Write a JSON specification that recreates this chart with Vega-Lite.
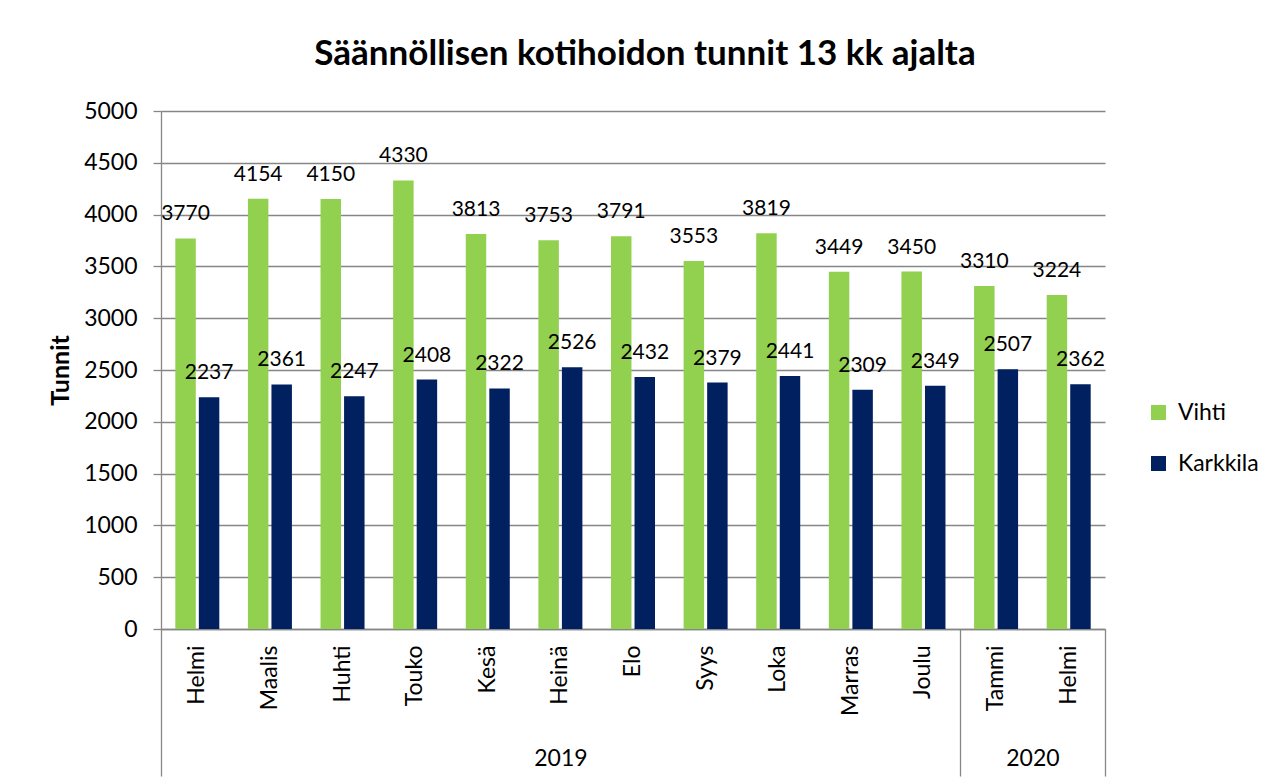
{
  "$schema": "https://vega.github.io/schema/vega-lite/v6.json",
  "autosize": "none",
  "width": 944,
  "height": 518,
  "padding": {"left": 161, "top": 111, "right": 168, "bottom": 153},
  "background": "white",
  "config": {
    "font": "Lato",
    "view": {"stroke": null},
    "axis": {"labelColor": "black", "titleColor": "black", "labelFont": "Lato", "titleFont": "Lato"}
  },
  "title": {
    "text": "Säännöllisen kotihoidon tunnit 13 kk ajalta",
    "font": "Lato",
    "fontSize": 35,
    "fontWeight": "bold",
    "color": "black",
    "anchor": "middle",
    "frame": "group",
    "dx": 12,
    "offset": 28
  },
  "layer": [
    {
      "data": {"values": [
        {"key": "2019 Helmi", "series": "Vihti", "value": 3770},
        {"key": "2019 Helmi", "series": "Karkkila", "value": 2237},
        {"key": "2019 Maalis", "series": "Vihti", "value": 4154},
        {"key": "2019 Maalis", "series": "Karkkila", "value": 2361},
        {"key": "2019 Huhti", "series": "Vihti", "value": 4150},
        {"key": "2019 Huhti", "series": "Karkkila", "value": 2247},
        {"key": "2019 Touko", "series": "Vihti", "value": 4330},
        {"key": "2019 Touko", "series": "Karkkila", "value": 2408},
        {"key": "2019 Kesä", "series": "Vihti", "value": 3813},
        {"key": "2019 Kesä", "series": "Karkkila", "value": 2322},
        {"key": "2019 Heinä", "series": "Vihti", "value": 3753},
        {"key": "2019 Heinä", "series": "Karkkila", "value": 2526},
        {"key": "2019 Elo", "series": "Vihti", "value": 3791},
        {"key": "2019 Elo", "series": "Karkkila", "value": 2432},
        {"key": "2019 Syys", "series": "Vihti", "value": 3553},
        {"key": "2019 Syys", "series": "Karkkila", "value": 2379},
        {"key": "2019 Loka", "series": "Vihti", "value": 3819},
        {"key": "2019 Loka", "series": "Karkkila", "value": 2441},
        {"key": "2019 Marras", "series": "Vihti", "value": 3449},
        {"key": "2019 Marras", "series": "Karkkila", "value": 2309},
        {"key": "2019 Joulu", "series": "Vihti", "value": 3450},
        {"key": "2019 Joulu", "series": "Karkkila", "value": 2349},
        {"key": "2020 Tammi", "series": "Vihti", "value": 3310},
        {"key": "2020 Tammi", "series": "Karkkila", "value": 2507},
        {"key": "2020 Helmi", "series": "Vihti", "value": 3224},
        {"key": "2020 Helmi", "series": "Karkkila", "value": 2362}
      ]},
      "encoding": {
        "x": {
          "field": "key", "type": "nominal", "sort": null,
          "scale": {"paddingInner": 0.394, "paddingOuter": 0.197},
          "axis": {
            "orient": "bottom",
            "title": null,
            "labelExpr": "substring(datum.value, 5)",
            "labelAngle": -90,
            "labelFontSize": 23,
            "labelPadding": 16,
            "ticks": false,
            "domainColor": "#868686",
            "domainWidth": 1.3,
            "grid": false
          }
        },
        "xOffset": {
          "field": "series", "type": "nominal", "sort": ["Vihti", "Karkkila"],
          "scale": {"paddingInner": 0.13, "paddingOuter": 0}
        },
        "y": {
          "field": "value", "type": "quantitative",
          "scale": {"domain": [0, 5000], "nice": false},
          "axis": {
            "title": "Tunnit",
            "titleFontSize": 25,
            "titleFontWeight": "bold",
            "titlePadding": 10,
            "values": [0, 500, 1000, 1500, 2000, 2500, 3000, 3500, 4000, 4500, 5000],
            "format": "d",
            "labelFontSize": 23,
            "labelPadding": 16,
            "tickSize": 8,
            "tickColor": "#868686",
            "tickWidth": 1.3,
            "domainColor": "#868686",
            "domainWidth": 1.3,
            "gridColor": "#868686",
            "gridWidth": 1.3
          }
        }
      },
      "layer": [
        {
          "mark": {"type": "bar"},
          "encoding": {
            "color": {
              "field": "series", "type": "nominal",
              "scale": {"domain": ["Vihti", "Karkkila"], "range": ["#92D050", "#002060"]},
              "legend": {
                "title": null,
                "orient": "none",
                "legendX": 986,
                "legendY": 290,
                "symbolType": "square",
                "symbolSize": 225,
                "symbolStrokeWidth": 0,
                "labelFontSize": 23,
                "labelOffset": 8,
                "rowPadding": 27,
                "labelColor": "black",
                "labelFont": "Lato"
              }
            }
          }
        },
        {
          "mark": {"type": "text", "baseline": "middle", "align": "center", "dy": -24, "fontSize": 21, "color": "black"},
          "encoding": {
            "text": {"field": "value", "type": "quantitative", "format": "d"}
          }
        }
      ]
    },
    {
      "data": {"values": [{"pos": 5.5, "year": "2019"}, {"pos": 12, "year": "2020"}]},
      "mark": {"type": "point", "opacity": 0},
      "encoding": {
        "x": {
          "field": "pos", "type": "quantitative",
          "scale": {"domain": [0, 13], "nice": false, "zero": false},
          "axis": {
            "orient": "bottom",
            "title": null,
            "values": [5.5, 12],
            "labelExpr": "datum.value < 11 ? '2019' : '2020'",
            "labelFontSize": 23,
            "labelPadding": 118,
            "labelBaseline": "top",
            "labelFlush": false,
            "labelOverlap": false,
            "ticks": false,
            "domain": false,
            "grid": false
          }
        }
      }
    },
    {
      "data": {"values": [{"pos": 0}, {"pos": 11}, {"pos": 13}]},
      "mark": {"type": "point", "opacity": 0},
      "encoding": {
        "x": {
          "field": "pos", "type": "quantitative",
          "scale": {"domain": [0, 13], "nice": false, "zero": false},
          "axis": {
            "orient": "bottom",
            "title": null,
            "values": [0, 11, 13],
            "labels": false,
            "ticks": true,
            "tickSize": 147,
            "tickColor": "#868686",
            "tickWidth": 1.3,
            "domain": false,
            "grid": false
          }
        }
      }
    }
  ],
  "resolve": {"scale": {"x": "independent"}, "axis": {"x": "independent"}}
}
